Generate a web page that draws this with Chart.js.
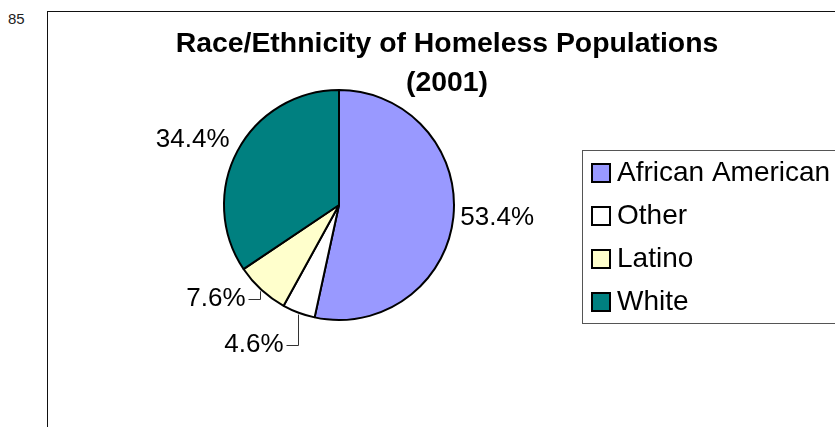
<!DOCTYPE html>
<html>
<head>
<meta charset="utf-8">
<title>Race/Ethnicity of Homeless Populations (2001)</title>
<script src="https://cdn.jsdelivr.net/npm/chart.js@4.4.1/dist/chart.umd.min.js"></script>
<style>
  html, body { margin: 0; padding: 0; width: 835px; height: 427px; overflow: hidden; background: #fff;
               font-family: "Liberation Sans", Arial, sans-serif; }
  #pageNo { position: absolute; left: 8px; top: 11px; font-size: 15px; line-height: 15px; color: #222; }
  #frame { position: absolute; left: 47px; top: 11px; width: 900px; height: 500px;
           border-left: 1px solid #111; border-top: 1px solid #111; }
  #chart { position: absolute; left: 0; top: 0; }
</style>
</head>
<body>
<div id="pageNo">85</div>
<div id="frame"><canvas id="chart" width="798" height="415"></canvas></div>
<script>
// Share of the homeless population by race/ethnicity, in percent
const categories = ['African American', 'Other', 'Latino', 'White'];
const shares = [53.4, 4.6, 7.6, 34.4];
const sliceColors = ['#9999FF', '#FFFFFF', '#FFFFCC', '#008080'];
const titleLines = ['Race/Ethnicity of Homeless Populations', '(2001)'];

const FONT = "'Liberation Sans', Arial, sans-serif";
Chart.defaults.font.family = FONT;

// Reserves a column on the right so the pie sits left of the legend
const legendReserve = {
  id: 'legendReserve',
  beforeInit(chart, args, o) {
    const w = (o && o.width) || 216;
    Chart.layouts.addBox(chart, {
      position: 'right', weight: 0, fullSize: false, options: {},
      left: 0, top: 0, right: 0, bottom: 0, width: 0, height: 0,
      isHorizontal() { return false; },
      update(maxWidth, maxHeight) { this.width = w; this.height = maxHeight; },
      draw() {}
    });
  }
};

// Percent labels outside the slices, with leader lines for the small ones
const sliceLabels = {
  id: 'sliceLabels',
  afterDatasetsDraw(chart, args, o) {
    const ctx = chart.ctx;
    const meta = chart.getDatasetMeta(0);
    const values = chart.data.datasets[0].data;
    ctx.save();
    ctx.font = o.font;
    ctx.fillStyle = o.color;
    meta.data.forEach((arc, i) => {
      const p = arc.getProps(['x', 'y', 'startAngle', 'endAngle', 'outerRadius'], true);
      const mid = (p.startAngle + p.endAngle) / 2;
      const cos = Math.cos(mid), sin = Math.sin(mid);
      const text = values[i].toFixed(1) + '%';
      const r = p.outerRadius + o.gaps[i];
      const ax = p.x + cos * r, ay = p.y + sin * r;
      const side = cos < 0 ? -1 : 1;
      if (o.leaders[i]) {
        const px = Math.round(p.x + cos * (p.outerRadius + 2)) + 0.5;
        const py = p.y + sin * (p.outerRadius + 2);
        const ly = Math.round(ay) + 0.5;
        ctx.beginPath();
        ctx.moveTo(px, py);
        ctx.lineTo(px, ly);
        ctx.lineTo(px + side * o.tick, ly);
        ctx.strokeStyle = o.leaderColor;
        ctx.lineWidth = 1;
        ctx.stroke();
        ctx.textAlign = side < 0 ? 'right' : 'left';
        ctx.textBaseline = 'middle';
        ctx.fillText(text, px + side * (o.tick + 3), ay);
      } else {
        ctx.textAlign = side < 0 ? 'right' : 'left';
        ctx.textBaseline = sin < -0.3 ? 'alphabetic' : 'middle';
        ctx.fillText(text, ax, ay);
      }
    });
    ctx.restore();
  }
};

// Framed legend with outlined colour swatches
const boxedLegend = {
  id: 'boxedLegend',
  afterDraw(chart, args, o) {
    const ctx = chart.ctx;
    const ds = chart.data.datasets[0];
    ctx.save();
    ctx.strokeStyle = o.frameColor;
    ctx.lineWidth = 1;
    ctx.strokeRect(o.left + 0.5, o.top + 0.5, o.width, o.height);
    ctx.font = o.font;
    ctx.textAlign = 'left';
    ctx.textBaseline = 'middle';
    chart.data.labels.forEach((label, i) => {
      const cy = o.top + o.firstRow + i * o.rowGap;
      const sx = o.left + o.inset;
      const sy = Math.round(cy - o.swatch / 2);
      ctx.fillStyle = ds.backgroundColor[i];
      ctx.fillRect(sx, sy, o.swatch, o.swatch);
      ctx.lineWidth = 2;
      ctx.strokeStyle = '#000';
      ctx.strokeRect(sx, sy, o.swatch, o.swatch);
      ctx.fillStyle = '#000';
      ctx.fillText(label, sx + o.swatch + o.textGap, cy);
    });
    ctx.restore();
  }
};

new Chart(document.getElementById('chart'), {
  type: 'pie',
  data: {
    labels: categories,
    datasets: [{
      data: shares,
      backgroundColor: sliceColors,
      borderColor: '#000',
      borderWidth: 2,
      clip: false
    }]
  },
  plugins: [legendReserve, sliceLabels, boxedLegend],
  options: {
    responsive: false,
    animation: false,
    events: [],
    radius: 115,
    layout: { padding: { left: 0, right: 0, top: 0, bottom: 119 } },
    plugins: {
      legend: { display: false },
      tooltip: { enabled: false },
      title: {
        display: true,
        text: titleLines,
        color: '#000',
        font: { family: FONT, size: 28.4, weight: 'bold', lineHeight: 1.356 },
        padding: { top: 13, bottom: 0 }
      },
      legendReserve: { width: 216 },
      sliceLabels: {
        font: '26px ' + FONT,
        color: '#000',
        leaderColor: '#333',
        gaps: [7, 34, 12.5, 9],
        leaders: [false, true, true, false],
        tick: 12
      },
      boxedLegend: {
        left: 534, top: 138, width: 280, height: 173,
        inset: 10, firstRow: 23, rowGap: 43,
        swatch: 18, textGap: 7,
        font: '28px ' + FONT,
        frameColor: '#555'
      }
    }
  }
});
</script>
</body>
</html>
